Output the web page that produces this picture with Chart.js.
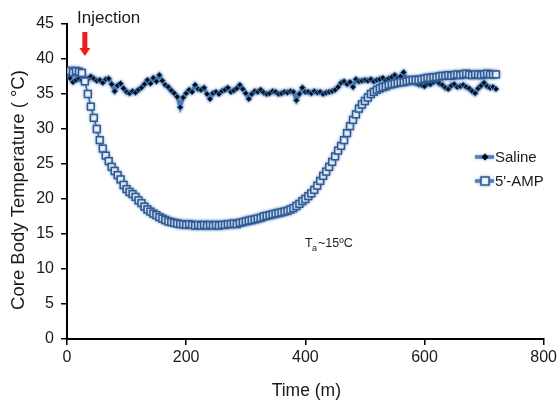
<!DOCTYPE html>
<html>
<head>
<meta charset="utf-8">
<script src="https://cdn.jsdelivr.net/npm/chart.js@4.4.1/dist/chart.umd.min.js"></script>
<style>
html,body{margin:0;padding:0;background:#fff}
#wrap{width:560px;height:404px}
</style>
</head>
<body>
<div id="wrap"><canvas id="c" width="560" height="404"></canvas></div>
<script>
// time (min) of each reading
const times = [
0,5,10,15,20,25,30,35,40,45,50,55,60,65,70,75,80,85,90,95,
100,105,110,115,120,125,130,135,140,145,150,155,160,165,170,175,180,185,190,195,
200,205,210,215,220,225,230,235,240,245,250,255,260,265,270,275,280,285,290,295,
300,305,310,315,320,325,330,335,340,345,350,355,360,365,370,375,380,385,390,395,
400,405,410,415,420,425,430,435,440,445,450,455,460,465,470,475,480,485,490,495,
500,505,510,515,520,525,530,535,540,545,550,555,560,565,570,575,580,585,590,595,
600,605,610,615,620,625,630,635,640,645,650,655,660,665,670,675,680,685,690,695,
700,705,710,715,720]

const saline = [
37.8,37.3,36.7,37.0,37.2,37.0,37.3,37.1,37.5,37.2,36.9,37.0,36.6,37.1,37.2,36.4,35.4,36.2,36.5,35.8,
35.3,35.1,35.4,35.2,35.6,35.9,36.4,37.0,36.5,37.3,36.8,37.7,36.9,36.3,36.0,35.5,35.1,34.6,33.1,34.5,
35.1,35.6,35.3,36.3,35.7,35.6,35.9,35.0,34.3,35.1,35.3,35.0,35.4,35.6,35.9,35.3,35.5,35.8,36.3,35.7,
35.1,34.3,35.0,35.4,35.3,35.6,35.2,35.0,35.1,35.4,35.3,35.0,35.1,35.3,35.2,35.4,35.3,34.1,35.0,35.9,
35.3,35.3,35.1,35.4,35.2,35.3,35.0,35.2,35.3,35.4,35.6,36.0,36.6,36.8,36.4,36.7,36.0,37.1,36.8,36.9,
37.0,36.9,37.1,36.8,37.0,37.1,37.3,36.9,37.2,37.4,37.7,37.3,37.5,38.1,37.1,37.0,36.8,36.6,36.4,36.3,
36.1,36.5,36.4,36.7,36.9,36.5,36.3,35.9,35.7,36.2,36.4,36.0,36.1,36.3,36.0,35.8,35.4,35.1,35.8,36.2,
36.6,36.1,35.9,36.0,35.7]

const amp = [
38.2,38.3,38.1,38.3,38.2,38.0,36.8,35.0,33.2,31.6,30.0,28.4,27.2,26.2,25.4,24.6,24.0,23.4,22.8,22.0,
21.4,21.0,20.7,20.3,19.8,19.4,18.9,18.5,18.2,17.9,17.7,17.4,17.2,17.0,16.8,16.7,16.6,16.5,16.4,16.4,
16.3,16.4,16.3,16.2,16.3,16.2,16.3,16.2,16.3,16.2,16.3,16.2,16.3,16.3,16.4,16.4,16.5,16.4,16.6,16.7,
16.8,16.9,17.0,17.1,17.2,17.3,17.5,17.6,17.7,17.8,17.9,18.0,18.1,18.2,18.3,18.5,18.7,19.0,19.3,19.7,
20.0,20.4,20.8,21.3,21.9,22.6,23.3,23.9,24.6,25.3,26.1,26.9,27.6,28.4,29.4,30.4,31.3,32.1,32.9,33.5,
34.0,34.5,35.0,35.3,35.6,35.8,36.0,36.1,36.3,36.4,36.5,36.6,36.7,36.7,36.8,36.9,37.0,37.0,37.0,37.1,
37.2,37.3,37.3,37.4,37.4,37.5,37.6,37.6,37.7,37.6,37.7,37.8,37.7,37.8,37.9,37.8,37.7,37.8,37.8,37.7,
37.8,37.9,37.8,37.8,37.8]

const seriesNames = ["Saline", "5'-AMP"]
const xTicks = [0, 200, 400, 600, 800]
const yTicks = [0, 5, 10, 15, 20, 25, 30, 35, 40, 45]
const injectionTime = 30

const FONT = "'Liberation Sans', Arial, sans-serif"
const LINE = "#4f81bd"
const BOX = "#2f5b93"

function toXY(vals){
  return times.map((t, i) => ({x: t, y: vals[i]}))
}

// excel-like soft blue glow around the series
const glow = {
  id: "glow",
  beforeDatasetsDraw(chart){
    const c = chart.ctx
    c.save()
    c.shadowColor = "rgba(60,110,180,0.5)"
    c.shadowBlur = 3
  },
  afterDatasetsDraw(chart){
    chart.ctx.restore()
  }
}

const extras = {
  id: "extras",
  afterDraw(chart){
    const c = chart.ctx
    const xs = chart.scales.x
    c.save()

    // axis titles
    c.fillStyle = "#1a1a1a"
    c.font = "18.5px " + FONT
    c.textAlign = "center"
    c.textBaseline = "middle"
    c.save()
    c.translate(19, 190)
    c.rotate(-Math.PI / 2)
    c.fillText("Core Body Temperature ( °C)", 0, 0)
    c.restore()
    c.font = "17.5px " + FONT
    c.fillText("Time (m)", (xs.left + xs.right) / 2 + 1, 391)

    // injection marker
    const ax = xs.getPixelForValue(injectionTime)
    c.font = "17px " + FONT
    c.textAlign = "left"
    c.textBaseline = "alphabetic"
    c.fillText("Injection", 77, 23)
    c.fillStyle = "#ee1c1c"
    c.fillRect(ax - 2.5, 32, 5, 17)
    c.beginPath()
    c.moveTo(ax - 5.5, 48)
    c.lineTo(ax + 5.5, 48)
    c.lineTo(ax, 56)
    c.closePath()
    c.fill()

    // ambient temperature note
    c.fillStyle = "#1a1a1a"
    c.font = "12.5px " + FONT
    c.fillText("T", 305, 247)
    c.font = "9px " + FONT
    c.fillText("a", 312, 251)
    c.font = "12.5px " + FONT
    c.fillText("~15ºC", 318, 247)

    // legend
    const rows = [157, 181]
    c.save()
    c.shadowColor = "rgba(60,110,180,0.5)"
    c.shadowBlur = 3
    c.strokeStyle = LINE
    c.lineWidth = 3.5
    rows.forEach(y => {
      c.beginPath(); c.moveTo(475, y); c.lineTo(494, y); c.stroke()
    })
    c.fillStyle = "#000"
    c.beginPath()
    c.moveTo(485, rows[0] - 3.5); c.lineTo(488.5, rows[0]); c.lineTo(485, rows[0] + 3.5); c.lineTo(481.5, rows[0])
    c.closePath(); c.fill()
    c.fillStyle = "#fff"
    c.strokeStyle = BOX
    c.lineWidth = 1.5
    c.fillRect(481, rows[1] - 4, 8, 8)
    c.strokeRect(481, rows[1] - 4, 8, 8)
    c.restore()
    c.fillStyle = "#1a1a1a"
    c.font = "15px " + FONT
    c.textBaseline = "middle"
    c.fillText(seriesNames[0], 495, rows[0] + 1)
    c.fillText(seriesNames[1], 495, rows[1] + 1)

    c.restore()
  }
}

new Chart(document.getElementById("c"), {
  type: "line",
  data: {
    datasets: [
      {
        label: seriesNames[0],
        data: toXY(saline),
        borderColor: LINE,
        borderWidth: 3.5,
        pointStyle: "rectRot",
        pointRadius: 3,
        pointBackgroundColor: "#000",
        pointBorderColor: LINE,
        pointBorderWidth: 1,
        tension: 0,
        order: 2
      },
      {
        label: seriesNames[1],
        data: toXY(amp),
        borderColor: "#3a6aa6",
        borderWidth: 1.5,
        pointStyle: "rect",
        pointRadius: 4.8,
        pointBackgroundColor: "#fff",
        pointBorderColor: BOX,
        pointBorderWidth: 1.5,
        tension: 0,
        order: 1
      }
    ]
  },
  options: {
    responsive: false,
    animation: false,
    devicePixelRatio: 1,
    layout: {padding: {left: 0, right: 14, top: 24, bottom: 0}},
    plugins: {
      legend: {display: false},
      tooltip: {enabled: false}
    },
    scales: {
      x: {
        type: "linear",
        min: 0,
        max: 800,
        afterFit(s){ s.height = 65 },
        afterBuildTicks(s){ s.ticks = xTicks.map(v => ({value: v})) },
        ticks: {color: "#1a1a1a", font: {family: FONT, size: 16}, padding: 3, maxRotation: 0},
        grid: {display: true, drawOnChartArea: false, drawTicks: true, tickLength: 6, color: "#000", lineWidth: 1.5},
        border: {color: "#000", width: 2}
      },
      y: {
        min: 0,
        max: 45,
        afterFit(s){ s.width = 67 },
        afterBuildTicks(s){ s.ticks = yTicks.map(v => ({value: v})) },
        ticks: {color: "#1a1a1a", font: {family: FONT, size: 16}, padding: 7},
        grid: {display: true, drawOnChartArea: false, drawTicks: true, tickLength: 6, color: "#000", lineWidth: 1.5},
        border: {color: "#000", width: 2}
      }
    }
  },
  plugins: [glow, extras]
})
</script>
</body>
</html>
